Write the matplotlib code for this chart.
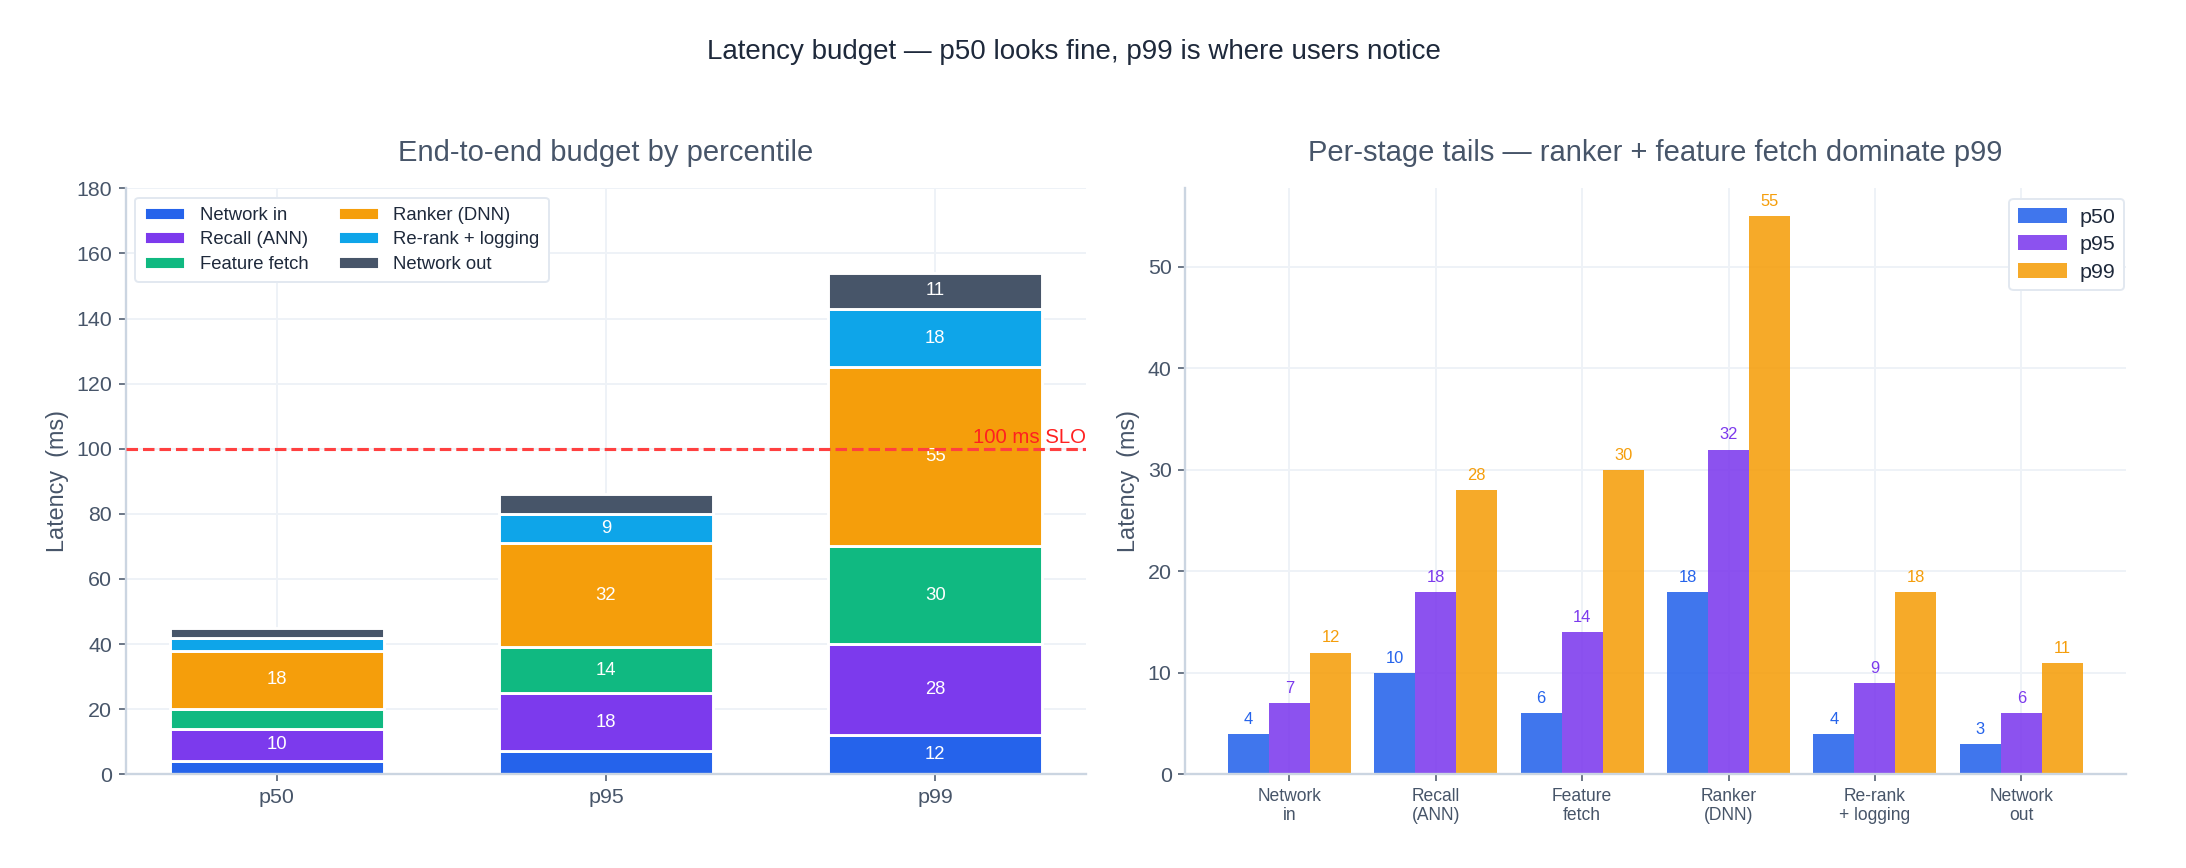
import numpy as np
import matplotlib
matplotlib.use('Agg')
import matplotlib.pyplot as plt

"""
Latency budget -- stacked end-to-end budget plus per-stage tail comparison
"""

plt.rcParams['font.family'] = ['Liberation Sans', 'DejaVu Sans']

percentiles = ['p50', 'p95', 'p99']
stages = ['Network in', 'Recall (ANN)', 'Feature fetch', 'Ranker (DNN)', 'Re-rank + logging', 'Network out']
stage_ticks = ['Network\nin', 'Recall\n(ANN)', 'Feature\nfetch', 'Ranker\n(DNN)', 'Re-rank\n+ logging', 'Network\nout']
p50_ms = [4, 10, 6, 18, 4, 3]
p95_ms = [7, 18, 14, 32, 9, 6]
p99_ms = [12, 28, 30, 55, 18, 11]
slo_ms = 100

stage_colors = ['#2563eb', '#7c3aed', '#10b981', '#f59e0b', '#0ea5e9', '#475569']
pct_colors = ['#2563eb', '#7c3aed', '#f59e0b']

text_col = '#475569'
spine_col = '#cbd5e1'
grid_col = '#eef2f7'

fig = plt.figure(figsize=(15.62, 6.2), dpi=140)
ax1 = fig.add_axes([0.0576, 0.108, 0.439, 0.675])
ax2 = fig.add_axes([0.542, 0.108, 0.430, 0.675])

for ax in (ax1, ax2):
    ax.spines['top'].set_visible(False)
    ax.spines['right'].set_visible(False)
    ax.spines['left'].set_color(spine_col)
    ax.spines['bottom'].set_color(spine_col)
    ax.spines['left'].set_linewidth(1.2)
    ax.spines['bottom'].set_linewidth(1.2)
    ax.tick_params(colors=text_col, labelcolor=text_col)
    ax.grid(True, color=grid_col, linewidth=1.0)
    ax.set_axisbelow(True)

# left: stacked budget
by_pct = np.array([p50_ms, p95_ms, p99_ms])  # rows: percentile, cols: stage
x = np.arange(len(percentiles))
bottom = np.zeros(len(percentiles))
for j, stage in enumerate(stages):
    vals = by_pct[:, j]
    bars = ax1.bar(x, vals, 0.65, bottom=bottom, color=stage_colors[j],
                   edgecolor='white', linewidth=1.5, label=stage)
    for i, b in enumerate(bars):
        if vals[i] >= 8:
            ax1.text(b.get_x() + b.get_width() / 2, bottom[i] + vals[i] / 2, f'{vals[i]}',
                     ha='center', va='center', color='white', fontsize=9.5)
    bottom += vals

ax1.axhline(slo_ms, color='#ff4040', linestyle='--', linewidth=1.6, zorder=3)
ax1.text(1.0, slo_ms + 0.5, '100 ms SLO', transform=ax1.get_yaxis_transform(),
         ha='right', va='bottom', color='#ff2020', fontsize=10.5)
ax1.set_ylim(0, 180)
ax1.set_yticks(range(0, 181, 20))
ax1.set_xticks(x)
ax1.set_xticklabels(percentiles)
ax1.tick_params(labelsize=11)
ax1.set_ylabel('Latency  (ms)', color=text_col, fontsize=12)
ax1.set_title('End-to-end budget by percentile', color=text_col, fontsize=15, pad=14)
leg = ax1.legend(ncol=2, loc='upper left', fontsize=9.5, frameon=True, framealpha=1,
                 edgecolor='#e2e8f0', handlelength=2.2, columnspacing=1.6,
                 labelspacing=0.4, borderpad=0.5)
for t in leg.get_texts():
    t.set_color('#1e293b')

# right: per-stage grouped bars
w = 0.28
xs = np.arange(len(stages))
series = [p50_ms, p95_ms, p99_ms]
for k, (name, vals) in enumerate(zip(percentiles, series)):
    bars = ax2.bar(xs + (k - 1) * w, vals, w, color=pct_colors[k], alpha=0.88, label=name)
    for b, v in zip(bars, vals):
        ax2.text(b.get_x() + b.get_width() / 2, v + 0.7, f'{v}', ha='center', va='bottom',
                 color=pct_colors[k], fontsize=8.5)

ax2.set_ylim(0, 57.75)
ax2.set_xticks(xs)
ax2.set_xticklabels(stage_ticks, fontsize=9)
ax2.tick_params(axis='y', labelsize=11)
ax2.set_ylabel('Latency  (ms)', color=text_col, fontsize=12)
ax2.set_title('Per-stage tails \u2014 ranker + feature fetch dominate p99', color=text_col,
              fontsize=15, pad=14)
leg2 = ax2.legend(loc='upper right', fontsize=11, frameon=True, framealpha=1,
                  edgecolor='#e2e8f0', handlelength=2.3, handletextpad=0.6,
                  labelspacing=0.4, bbox_to_anchor=(1.01, 1.0))
for t in leg2.get_texts():
    t.set_color('#1e293b')

fig.suptitle('Latency budget \u2014 p50 looks fine, p99 is where users notice',
             x=0.491, y=0.955, fontsize=14.3, color='#1e293b')

fig.savefig('out.png', dpi=140)
